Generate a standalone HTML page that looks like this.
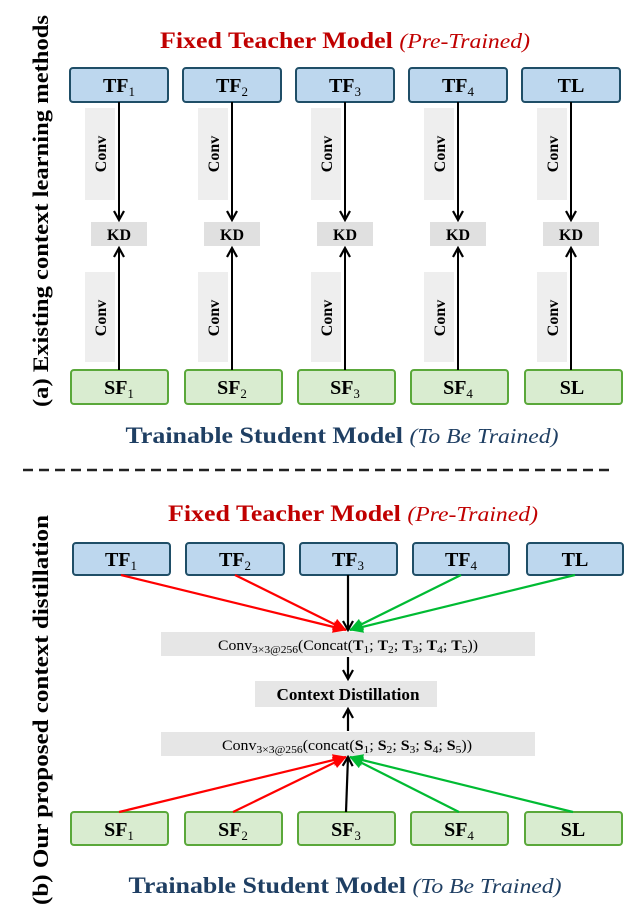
<!DOCTYPE html>
<html><head><meta charset="utf-8"><style>
body{margin:0;background:#fff}
svg text{font-family:"Liberation Serif",serif}
</style></head><body>
<svg width="640" height="912" viewBox="0 0 640 912" xmlns="http://www.w3.org/2000/svg">
<defs>
<marker id="ak" markerWidth="12" markerHeight="12" refX="10" refY="6" orient="auto" markerUnits="userSpaceOnUse"><path d="M1,1 L10,6 L1,11" fill="none" stroke="#000" stroke-width="2.2"/></marker>
<marker id="ar" markerWidth="14" markerHeight="12" refX="13" refY="6" orient="auto" markerUnits="userSpaceOnUse"><path d="M0,0 L14,6 L0,12 Z" fill="#f00"/></marker>
<marker id="ag" markerWidth="14" markerHeight="12" refX="13" refY="6" orient="auto" markerUnits="userSpaceOnUse"><path d="M0,0 L14,6 L0,12 Z" fill="#0b3"/></marker>
</defs>
<g font-weight="bold">
<text x="345" y="48" text-anchor="middle" font-size="23" fill="#c00000" textLength="370" lengthAdjust="spacingAndGlyphs">Fixed Teacher Model <tspan font-weight="normal" font-style="italic" font-size="21">(Pre-Trained)</tspan></text>
<text x="342" y="443" text-anchor="middle" font-size="23" fill="#1f3f63" textLength="433" lengthAdjust="spacingAndGlyphs">Trainable Student Model <tspan font-weight="normal" font-style="italic" font-size="21">(To Be Trained)</tspan></text>
<text x="353" y="521" text-anchor="middle" font-size="23" fill="#c00000" textLength="370" lengthAdjust="spacingAndGlyphs">Fixed Teacher Model <tspan font-weight="normal" font-style="italic" font-size="21">(Pre-Trained)</tspan></text>
<text x="345" y="893" text-anchor="middle" font-size="23" fill="#1f3f63" textLength="433" lengthAdjust="spacingAndGlyphs">Trainable Student Model <tspan font-weight="normal" font-style="italic" font-size="21">(To Be Trained)</tspan></text>
<text transform="translate(48,211) rotate(-90)" text-anchor="middle" font-size="22" textLength="392" lengthAdjust="spacingAndGlyphs">(a) Existing context learning methods</text>
<text transform="translate(48,710) rotate(-90)" text-anchor="middle" font-size="22" textLength="390" lengthAdjust="spacingAndGlyphs">(b) Our proposed context distillation</text>
</g>
<line x1="23" y1="470" x2="615" y2="470" stroke="#222" stroke-width="2.5" stroke-dasharray="10,6"/>

<g font-weight="bold" font-size="20" text-anchor="middle">
<rect x="70" y="68" width="98" height="34" rx="3" fill="#bdd7ee" stroke="#1f4e67" stroke-width="2"/><text x="119" y="92">TF<tspan font-size="13" dy="4" font-weight="normal">1</tspan></text>
<rect x="183" y="68" width="98" height="34" rx="3" fill="#bdd7ee" stroke="#1f4e67" stroke-width="2"/><text x="232" y="92">TF<tspan font-size="13" dy="4" font-weight="normal">2</tspan></text>
<rect x="296" y="68" width="98" height="34" rx="3" fill="#bdd7ee" stroke="#1f4e67" stroke-width="2"/><text x="345" y="92">TF<tspan font-size="13" dy="4" font-weight="normal">3</tspan></text>
<rect x="409" y="68" width="98" height="34" rx="3" fill="#bdd7ee" stroke="#1f4e67" stroke-width="2"/><text x="458" y="92">TF<tspan font-size="13" dy="4" font-weight="normal">4</tspan></text>
<rect x="522" y="68" width="98" height="34" rx="3" fill="#bdd7ee" stroke="#1f4e67" stroke-width="2"/><text x="571" y="92">TL</text>

<rect x="71" y="370" width="97" height="34" rx="3" fill="#d9ecd0" stroke="#5aa83a" stroke-width="2"/><text x="119" y="394">SF<tspan font-size="13" dy="4" font-weight="normal">1</tspan></text>
<rect x="185" y="370" width="97" height="34" rx="3" fill="#d9ecd0" stroke="#5aa83a" stroke-width="2"/><text x="232" y="394">SF<tspan font-size="13" dy="4" font-weight="normal">2</tspan></text>
<rect x="298" y="370" width="97" height="34" rx="3" fill="#d9ecd0" stroke="#5aa83a" stroke-width="2"/><text x="345" y="394">SF<tspan font-size="13" dy="4" font-weight="normal">3</tspan></text>
<rect x="411" y="370" width="97" height="34" rx="3" fill="#d9ecd0" stroke="#5aa83a" stroke-width="2"/><text x="458" y="394">SF<tspan font-size="13" dy="4" font-weight="normal">4</tspan></text>
<rect x="525" y="370" width="97" height="34" rx="3" fill="#d9ecd0" stroke="#5aa83a" stroke-width="2"/><text x="572" y="394">SL</text>
</g>
<g font-weight="bold" font-size="16" text-anchor="middle">
<g transform="translate(0,0)">
<rect x="85" y="108" width="30" height="92" fill="#eeeeee"/><text transform="translate(106,154) rotate(-90)">Conv</text>
<rect x="85" y="272" width="30" height="90" fill="#eeeeee"/><text transform="translate(106,318) rotate(-90)">Conv</text>
<rect x="91" y="222" width="56" height="24" fill="#e0e0e0"/><text x="119" y="240">KD</text>
<line x1="119" y1="102" x2="119" y2="220" stroke="#000" stroke-width="2" marker-end="url(#ak)"/>
<line x1="119" y1="370" x2="119" y2="248" stroke="#000" stroke-width="2" marker-end="url(#ak)"/>
</g>
<g transform="translate(113,0)">
<rect x="85" y="108" width="30" height="92" fill="#eeeeee"/><text transform="translate(106,154) rotate(-90)">Conv</text>
<rect x="85" y="272" width="30" height="90" fill="#eeeeee"/><text transform="translate(106,318) rotate(-90)">Conv</text>
<rect x="91" y="222" width="56" height="24" fill="#e0e0e0"/><text x="119" y="240">KD</text>
<line x1="119" y1="102" x2="119" y2="220" stroke="#000" stroke-width="2" marker-end="url(#ak)"/>
<line x1="119" y1="370" x2="119" y2="248" stroke="#000" stroke-width="2" marker-end="url(#ak)"/>
</g>
<g transform="translate(226,0)">
<rect x="85" y="108" width="30" height="92" fill="#eeeeee"/><text transform="translate(106,154) rotate(-90)">Conv</text>
<rect x="85" y="272" width="30" height="90" fill="#eeeeee"/><text transform="translate(106,318) rotate(-90)">Conv</text>
<rect x="91" y="222" width="56" height="24" fill="#e0e0e0"/><text x="119" y="240">KD</text>
<line x1="119" y1="102" x2="119" y2="220" stroke="#000" stroke-width="2" marker-end="url(#ak)"/>
<line x1="119" y1="370" x2="119" y2="248" stroke="#000" stroke-width="2" marker-end="url(#ak)"/>
</g>
<g transform="translate(339,0)">
<rect x="85" y="108" width="30" height="92" fill="#eeeeee"/><text transform="translate(106,154) rotate(-90)">Conv</text>
<rect x="85" y="272" width="30" height="90" fill="#eeeeee"/><text transform="translate(106,318) rotate(-90)">Conv</text>
<rect x="91" y="222" width="56" height="24" fill="#e0e0e0"/><text x="119" y="240">KD</text>
<line x1="119" y1="102" x2="119" y2="220" stroke="#000" stroke-width="2" marker-end="url(#ak)"/>
<line x1="119" y1="370" x2="119" y2="248" stroke="#000" stroke-width="2" marker-end="url(#ak)"/>
</g>
<g transform="translate(452,0)">
<rect x="85" y="108" width="30" height="92" fill="#eeeeee"/><text transform="translate(106,154) rotate(-90)">Conv</text>
<rect x="85" y="272" width="30" height="90" fill="#eeeeee"/><text transform="translate(106,318) rotate(-90)">Conv</text>
<rect x="91" y="222" width="56" height="24" fill="#e0e0e0"/><text x="119" y="240">KD</text>
<line x1="119" y1="102" x2="119" y2="220" stroke="#000" stroke-width="2" marker-end="url(#ak)"/>
<line x1="119" y1="370" x2="119" y2="248" stroke="#000" stroke-width="2" marker-end="url(#ak)"/>
</g>
</g>

<g font-weight="bold" font-size="20" text-anchor="middle">
<rect x="73" y="543" width="97" height="32" rx="3" fill="#bdd7ee" stroke="#1f4e67" stroke-width="2"/><text x="121" y="566">TF<tspan font-size="13" dy="4" font-weight="normal">1</tspan></text>
<rect x="186" y="543" width="98" height="32" rx="3" fill="#bdd7ee" stroke="#1f4e67" stroke-width="2"/><text x="235" y="566">TF<tspan font-size="13" dy="4" font-weight="normal">2</tspan></text>
<rect x="300" y="543" width="97" height="32" rx="3" fill="#bdd7ee" stroke="#1f4e67" stroke-width="2"/><text x="348" y="566">TF<tspan font-size="13" dy="4" font-weight="normal">3</tspan></text>
<rect x="413" y="543" width="96" height="32" rx="3" fill="#bdd7ee" stroke="#1f4e67" stroke-width="2"/><text x="461" y="566">TF<tspan font-size="13" dy="4" font-weight="normal">4</tspan></text>
<rect x="527" y="543" width="96" height="32" rx="3" fill="#bdd7ee" stroke="#1f4e67" stroke-width="2"/><text x="575" y="566">TL</text>

<rect x="71" y="812" width="97" height="33" rx="3" fill="#d9ecd0" stroke="#5aa83a" stroke-width="2"/><text x="119" y="836">SF<tspan font-size="13" dy="4" font-weight="normal">1</tspan></text>
<rect x="185" y="812" width="97" height="33" rx="3" fill="#d9ecd0" stroke="#5aa83a" stroke-width="2"/><text x="233" y="836">SF<tspan font-size="13" dy="4" font-weight="normal">2</tspan></text>
<rect x="298" y="812" width="97" height="33" rx="3" fill="#d9ecd0" stroke="#5aa83a" stroke-width="2"/><text x="346" y="836">SF<tspan font-size="13" dy="4" font-weight="normal">3</tspan></text>
<rect x="411" y="812" width="97" height="33" rx="3" fill="#d9ecd0" stroke="#5aa83a" stroke-width="2"/><text x="459" y="836">SF<tspan font-size="13" dy="4" font-weight="normal">4</tspan></text>
<rect x="525" y="812" width="97" height="33" rx="3" fill="#d9ecd0" stroke="#5aa83a" stroke-width="2"/><text x="573" y="836">SL</text>
</g>
<rect x="161" y="632" width="374" height="24" fill="#e6e6e6"/>
<text x="348" y="650" text-anchor="middle" font-size="15" textLength="260" lengthAdjust="spacingAndGlyphs">Conv<tspan font-size="11" dy="3">3×3@256</tspan><tspan dy="-3">(Concat(<tspan font-weight="bold">T</tspan><tspan font-size="11" dy="3">1</tspan><tspan dy="-3">; </tspan><tspan font-weight="bold">T</tspan><tspan font-size="11" dy="3">2</tspan><tspan dy="-3">; </tspan><tspan font-weight="bold">T</tspan><tspan font-size="11" dy="3">3</tspan><tspan dy="-3">; </tspan><tspan font-weight="bold">T</tspan><tspan font-size="11" dy="3">4</tspan><tspan dy="-3">; </tspan><tspan font-weight="bold">T</tspan><tspan font-size="11" dy="3">5</tspan><tspan dy="-3">))</tspan></tspan></text>
<rect x="255" y="681" width="182" height="26" fill="#e6e6e6"/>
<text x="348" y="700" text-anchor="middle" font-size="17" font-weight="bold" textLength="143" lengthAdjust="spacingAndGlyphs">Context Distillation</text>
<rect x="161" y="732" width="374" height="24" fill="#e6e6e6"/>
<text x="347" y="750" text-anchor="middle" font-size="15" textLength="250" lengthAdjust="spacingAndGlyphs">Conv<tspan font-size="11" dy="3">3×3@256</tspan><tspan dy="-3">(concat(<tspan font-weight="bold">S</tspan><tspan font-size="11" dy="3">1</tspan><tspan dy="-3">; </tspan><tspan font-weight="bold">S</tspan><tspan font-size="11" dy="3">2</tspan><tspan dy="-3">; </tspan><tspan font-weight="bold">S</tspan><tspan font-size="11" dy="3">3</tspan><tspan dy="-3">; </tspan><tspan font-weight="bold">S</tspan><tspan font-size="11" dy="3">4</tspan><tspan dy="-3">; </tspan><tspan font-weight="bold">S</tspan><tspan font-size="11" dy="3">5</tspan><tspan dy="-3">))</tspan></tspan></text>

<g stroke-width="2.2">
<line x1="121" y1="575" x2="346" y2="630" stroke="#f00" marker-end="url(#ar)"/>
<line x1="235" y1="575" x2="346" y2="630" stroke="#f00" marker-end="url(#ar)"/>
<line x1="461" y1="575" x2="350" y2="630" stroke="#0b3" marker-end="url(#ag)"/>
<line x1="575" y1="575" x2="350" y2="630" stroke="#0b3" marker-end="url(#ag)"/>
<line x1="348" y1="575" x2="348" y2="630" stroke="#000" marker-end="url(#ak)"/>
<line x1="348" y1="657" x2="348" y2="679" stroke="#000" marker-end="url(#ak)"/>
<line x1="348" y1="731" x2="348" y2="709" stroke="#000" marker-end="url(#ak)"/>
<line x1="119" y1="812" x2="346" y2="757" stroke="#f00" marker-end="url(#ar)"/>
<line x1="233" y1="812" x2="346" y2="757" stroke="#f00" marker-end="url(#ar)"/>
<line x1="459" y1="812" x2="350" y2="757" stroke="#0b3" marker-end="url(#ag)"/>
<line x1="573" y1="812" x2="350" y2="757" stroke="#0b3" marker-end="url(#ag)"/>
<line x1="346" y1="812" x2="348" y2="757" stroke="#000" marker-end="url(#ak)"/>
</g>
</svg>
</body></html>
